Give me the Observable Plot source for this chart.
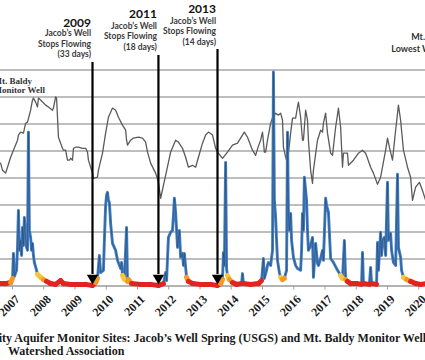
<!DOCTYPE html>
<html><head><meta charset="utf-8">
<script src="https://cdn.jsdelivr.net/npm/d3@7"></script>
<script src="https://cdn.jsdelivr.net/npm/@observablehq/plot@0.6"></script>
<style>
html,body{margin:0;padding:0;background:#fff;overflow:hidden;}
#wrap{position:relative;width:425px;height:360px;overflow:hidden;background:#fff;}
#chart{position:absolute;left:0;top:0;}
.cap{position:absolute;white-space:nowrap;font-family:"Liberation Serif","Times New Roman",serif;font-weight:bold;font-size:12px;color:#1a1a1a;line-height:1;}
</style></head><body>
<div id="wrap"><div id="chart"></div>
<div class="cap" id="cap1">Trinity Aquifer Monitor Sites: Jacob’s Well Spring (USGS) and Mt. Baldy Monitor Well</div>
<div class="cap" id="cap2">Watershed Association</div>
</div>
<script>
const years = [2007,2008,2009,2010,2011,2012,2013,2014,2015,2016,2017,2018,2019,2020];
const gridValues = [10,20,30,40,50,60,70,80];

// Mt. Baldy monitor well (grey line), chart units
const wellYear = [2006.62,2006.68,2006.78,2006.84,2006.94,2007.03,2007.16,2007.19,2007.26,2007.35,2007.42,2007.48,2007.58,2007.64,2007.67,2007.74,2007.80,2007.83,2007.90,2008.06,2008.15,2008.28,2008.31,2008.38,2008.41,2008.44,2008.47,2008.54,2008.60,2008.63,2008.70,2008.76,2008.82,2008.86,2008.92,2008.95,2009.02,2009.11,2009.24,2009.34,2009.40,2009.43,2009.50,2009.56,2009.59,2009.72,2009.75,2009.88,2009.98,2010.07,2010.20,2010.30,2010.39,2010.52,2010.62,2010.65,2010.68,2010.78,2010.87,2011.03,2011.16,2011.26,2011.32,2011.42,2011.58,2011.67,2011.74,2011.90,2012.06,2012.22,2012.31,2012.44,2012.54,2012.63,2012.76,2012.86,2012.95,2013.08,2013.18,2013.27,2013.40,2013.50,2013.56,2013.72,2013.88,2014.04,2014.20,2014.30,2014.42,2014.52,2014.68,2014.78,2014.87,2014.94,2015.00,2015.06,2015.10,2015.16,2015.26,2015.32,2015.42,2015.51,2015.58,2015.64,2015.67,2015.74,2015.80,2015.83,2015.90,2015.96,2016.06,2016.12,2016.15,2016.22,2016.28,2016.31,2016.38,2016.44,2016.47,2016.54,2016.60,2016.63,2016.76,2016.86,2016.92,2016.95,2017.02,2017.08,2017.18,2017.24,2017.34,2017.43,2017.50,2017.56,2017.59,2017.72,2017.75,2017.91,2018.07,2018.20,2018.30,2018.36,2018.46,2018.55,2018.68,2018.78,2018.94,2019.00,2019.06,2019.16,2019.26,2019.35,2019.42,2019.51,2019.64,2019.74,2019.80,2019.90,2020.02,2020.12,2020.22];
const wellLevel = [45.5,42.9,41.8,44.0,47.7,50.3,54.0,55.9,57.0,56.6,60.3,60.7,65.1,68.9,69.6,68.1,66.3,69.6,68.9,67.0,66.3,65.1,65.9,70.0,69.6,62.5,55.1,52.9,51.0,50.3,50.3,46.6,46.6,47.3,46.6,51.0,51.4,51.4,51.0,51.0,49.6,46.6,44.0,41.8,39.9,40.3,42.9,49.2,56.6,62.5,65.9,65.1,62.5,59.6,57.7,54.0,52.2,54.0,54.8,55.1,54.8,53.3,49.6,45.5,41.8,38.4,32.5,41.0,49.6,54.0,53.3,51.0,47.7,44.0,44.7,44.0,47.7,52.9,55.9,57.0,55.9,51.0,49.6,47.3,49.6,52.2,52.9,54.8,57.0,55.1,50.3,48.4,51.8,54.0,57.0,49.6,49.6,54.0,60.3,62.2,64.0,63.3,64.0,61.4,51.4,47.7,45.5,49.2,56.6,62.2,62.2,66.3,68.1,62.5,54.0,54.0,65.1,61.4,54.0,42.9,38.0,42.9,54.0,57.7,57.0,60.3,64.0,56.6,49.2,48.4,58.8,65.9,58.8,44.0,49.2,49.2,44.7,46.6,49.2,50.3,49.2,47.3,44.0,41.8,37.7,40.3,50.3,54.8,51.4,46.6,57.7,67.0,61.4,50.3,44.0,40.3,31.7,36.6,38.4,35.4,31.7];

// Jacob's Well spring flow (blue line), chart units
const flowYear = [2006.62,2006.78,2006.94,2007.00,2007.03,2007.06,2007.13,2007.16,2007.19,2007.22,2007.26,2007.29,2007.32,2007.35,2007.38,2007.42,2007.45,2007.48,2007.51,2007.54,2007.58,2007.61,2007.64,2007.67,2007.70,2007.77,2007.80,2007.90,2007.99,2008.09,2008.22,2008.38,2008.54,2008.63,2008.86,2009.11,2009.34,2009.56,2009.66,2009.72,2009.78,2009.82,2009.91,2009.94,2009.98,2010.01,2010.04,2010.07,2010.10,2010.14,2010.20,2010.30,2010.36,2010.46,2010.49,2010.52,2010.58,2010.65,2010.68,2010.71,2010.81,2011.10,2011.42,2011.67,2011.83,2011.90,2011.93,2011.99,2012.06,2012.12,2012.15,2012.18,2012.22,2012.28,2012.34,2012.38,2012.44,2012.47,2012.50,2012.57,2012.63,2012.76,2013.02,2013.34,2013.56,2013.66,2013.72,2013.75,2013.78,2013.82,2013.85,2013.88,2013.94,2014.04,2014.17,2014.33,2014.36,2014.39,2014.62,2014.87,2014.97,2015.03,2015.06,2015.13,2015.16,2015.19,2015.26,2015.32,2015.35,2015.38,2015.42,2015.45,2015.48,2015.54,2015.58,2015.64,2015.70,2015.77,2015.80,2015.83,2015.86,2015.90,2015.93,2015.99,2016.06,2016.12,2016.22,2016.25,2016.28,2016.31,2016.34,2016.38,2016.41,2016.44,2016.47,2016.54,2016.60,2016.63,2016.70,2016.76,2016.79,2016.86,2016.92,2016.95,2017.02,2017.05,2017.11,2017.18,2017.27,2017.37,2017.50,2017.56,2017.62,2017.66,2017.72,2017.82,2018.01,2018.17,2018.20,2018.23,2018.42,2018.46,2018.49,2018.65,2018.68,2018.71,2018.78,2018.81,2018.84,2018.90,2018.94,2019.00,2019.03,2019.10,2019.13,2019.19,2019.26,2019.32,2019.35,2019.42,2019.45,2019.51,2019.61,2019.74,2019.90,2020.06,2020.22];
const flowValue = [0.9,0.9,1.3,2.8,12.1,3.5,5.8,14.3,28.0,13.2,16.9,11.3,21.7,15.0,25.4,16.9,14.3,13.2,57.0,20.6,18.0,13.2,15.8,11.3,8.7,5.8,4.3,3.2,2.4,1.7,0.9,0.6,2.0,0.9,0.6,0.6,0.6,0.2,1.3,2.8,11.3,5.0,5.8,16.9,29.9,33.6,34.7,31.7,31.0,23.2,15.8,13.2,9.5,6.5,8.7,3.9,2.4,21.7,1.7,2.4,0.9,0.6,0.6,0.2,0.9,5.0,2.0,18.0,19.9,20.6,26.2,32.5,27.3,14.3,20.6,10.6,12.1,7.6,12.1,3.2,1.7,0.9,0.6,0.6,0.2,0.9,2.4,12.4,7.6,45.8,6.5,3.9,2.4,1.3,0.6,0.9,4.6,0.9,0.6,0.9,2.0,10.2,2.8,5.8,7.6,8.7,7.6,13.2,79.3,31.7,25.4,16.9,9.5,5.0,3.2,2.4,2.8,5.8,57.0,26.2,20.6,26.9,16.9,10.6,7.6,6.5,5.8,13.2,26.9,20.6,40.3,35.4,31.7,20.6,13.2,15.0,18.0,3.2,15.8,8.4,7.6,10.2,13.2,9.5,32.5,29.9,27.3,10.2,8.7,6.5,3.9,2.8,16.9,2.4,1.7,0.9,0.9,0.6,12.4,0.9,0.6,6.9,0.9,0.6,16.1,5.8,19.9,11.3,16.9,18.0,11.3,38.4,16.9,19.5,13.2,8.7,7.6,41.4,14.3,10.6,5.8,3.2,2.4,1.7,0.9,0.6,0.9];

// Annotations
const eventYear = [2009.56, 2011.67, 2013.56];
const eventLabel = ["2009", "2011", "2013"];
const eventDays = ["(33 days)", "(18 days)", "(14 days)"];

const well = wellYear.map((t, i) => ({t, v: wellLevel[i]}));
const flow = flowYear.map((t, i) => ({t, v: flowValue[i]}));
const lowSegs = [];
for (let i = 0; i < flow.length - 1; i++) {
  const a = flow[i], b = flow[i + 1];
  if (a.v < 4.5 && b.v < 4.5) lowSegs.push({t1: a.t, v1: a.v, t2: b.t, v2: b.v, m: (a.v + b.v) / 2});
}
const lowColor = m => m < 1.5 ? "#e2231f" : m < 2.6 ? "#f39a26" : "#f6c63e";
const events = eventYear.map((t, i) => ({t, label: eventLabel[i], note: "Jacob’s Well\nStops Flowing\n" + eventDays[i]}));

const TOP = 69.5, BASE = 285.5, H = 322;
const layout = [{yr: 26, note: 56.5, top: 62}, {yr: 17.5, note: 49, top: 55}, {yr: 12, note: 44, top: 49}];
const sans = "Lato, 'Open Sans', sans-serif";
const serif = "'Liberation Serif', 'Times New Roman', serif";

const eventMarks = events.flatMap((e, i) => {
  const L = layout[i];
  return [
    Plot.ruleX([e], {x: "t", stroke: "#000", strokeWidth: 2.2, insetTop: L.top - TOP, insetBottom: 11.5}),
    Plot.text([e], {x: "t", text: "label", frameAnchor: "top", dy: L.yr - TOP, lineAnchor: "bottom", textAnchor: "end", dx: -1.5, fontSize: 12, fontWeight: "bold", fontFamily: sans, fill: "#111"}),
    Plot.text([e], {x: "t", text: "note", frameAnchor: "top", dy: L.note - TOP, lineAnchor: "bottom", textAnchor: "end", dx: -1.5, lineHeight: 1.22, fontSize: 8.5, fontWeight: "bold", fontFamily: sans, fill: "#3a3a3a"})
  ];
});

const chart = Plot.plot({
  width: 425,
  height: H,
  marginLeft: 0,
  marginRight: 0,
  marginTop: TOP,
  marginBottom: H - BASE,
  x: {domain: [2006.616, 2020.216], axis: null},
  y: {domain: [0, 80], axis: null},
  style: {background: "#fff"},
  marks: [
    Plot.ruleY(gridValues, {y: d => d, x1: 2006.616, x2: 2020.216, stroke: "#a9a9a9", strokeOpacity: 1, strokeWidth: 1.4}),
    Plot.ruleY([0], {y: d => d, x1: 2006.616, x2: 2020.216, stroke: "#9a9a9a", strokeOpacity: 1, strokeWidth: 1.4}),
    Plot.ruleX(years, {x: d => d, insetTop: BASE - TOP, insetBottom: -4, stroke: "#a0a0a0"}),
    Plot.line(well, {x: "t", y: "v", stroke: "#5a5a5a", strokeWidth: 1.3, strokeLinejoin: "round"}),
    Plot.line(flow, {x: "t", y: "v", stroke: "#3e7fc6", strokeWidth: 2.9, strokeLinejoin: "round"}),
    Plot.line(flow, {x: "t", y: "v", stroke: "#2f3d5a", strokeWidth: 0.8, strokeOpacity: 0.65}),
    Plot.link(lowSegs, {x1: "t1", y1: "v1", x2: "t2", y2: "v2", stroke: d => lowColor(d.m), strokeWidth: 5, strokeLinecap: "round"}),
    ...eventMarks,
    Plot.dot(events, {x: "t", frameAnchor: "bottom", dy: -8.1, symbol: "triangle", r: 4.2, rotate: 180, fill: "#000", stroke: "none"}),
    Plot.text(years, {x: d => d, text: d => String(d), frameAnchor: "bottom", dy: 14, dx: 8, rotate: -45, textAnchor: "end", fontSize: 12, fontFamily: serif, fontWeight: "bold", fill: "#1a1a1a"}),
    Plot.text(["Mt. Baldy\nMonitor Well"], {frameAnchor: "top-left", dx: -7, dy: 92 - TOP, lineAnchor: "bottom", textAnchor: "start", lineHeight: 1.0, fontSize: 9, fontFamily: serif, fontWeight: "bold", fill: "#333"}),
    Plot.text(["Mt. Baldy\nLowest Water Level"], {frameAnchor: "top-right", dx: 5, dy: 51 - TOP, lineAnchor: "bottom", textAnchor: "middle", lineHeight: 1.33, fontSize: 9, fontFamily: sans, fontWeight: "bold", fill: "#333"})
  ]
});
document.getElementById("chart").appendChild(chart);

// caption placement: the reference shows the caption cropped at the left edge
const ctx = document.createElement("canvas").getContext("2d");
ctx.font = "bold 12px 'Liberation Serif'";
const cut = ctx.measureText("Trini").width;
const c1 = document.getElementById("cap1");
c1.style.left = (2 - cut) + "px";
c1.style.top = "331.5px";
const c2 = document.getElementById("cap2");
c2.style.left = "8px";
c2.style.top = "345px";
</script>
</body></html>
